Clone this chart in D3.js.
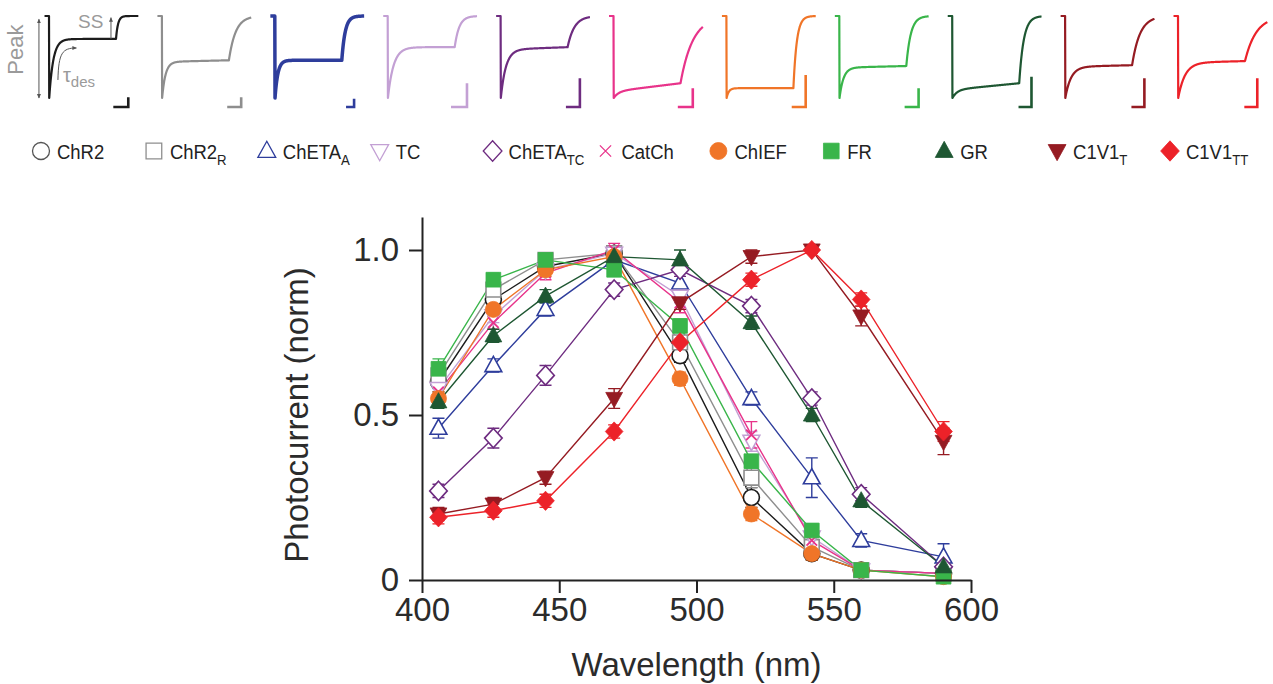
<!DOCTYPE html>
<html>
<head>
<meta charset="utf-8">
<script src="https://cdnjs.cloudflare.com/ajax/libs/d3/7.8.5/d3.min.js"></script>
<style>
  body { margin: 0; background: #fff; }
  svg { font-family: "Liberation Sans", Arial, Helvetica, sans-serif; }
</style>
</head>
<body>
<script>
// constructs, in legend order
var names = ["ChR2", "ChR2", "ChETA", "TC", "ChETA", "CatCh", "ChIEF", "FR", "GR", "C1V1", "C1V1"];
var subs  = ["", "R", "A", "", "TC", "", "", "", "", "T", "TT"];
var colors = ["#1c1c1c", "#8e8e8e", "#2e3d9c", "#c3a0d4", "#6e2c80", "#e8338a",
              "#f07528", "#39b54a", "#1e5732", "#951b22", "#ec2229"];
var shapes = ["circle", "square", "triUp", "triDown", "diamond", "cross",
              "circle", "square", "triUp", "triDown", "diamond"];
var filled = [false, false, false, false, false, false, true, true, true, true, true];

// action spectra (normalised photocurrent)
var wavelengths = [406, 426, 445, 470, 494, 520, 542, 560, 590];
var chr2    = [0.60, 0.85, 0.95, 0.99, 0.68, 0.25, 0.08, 0.03, 0.02];
var chr2R   = [0.62, 0.88, 0.97, 0.99, 0.72, 0.31, 0.10, 0.03, 0.02];
var chetaA  = [0.46, 0.65, 0.82, 0.97, 0.90, 0.55, 0.31, 0.12, 0.07];
var tc      = [0.58, 0.80, 0.94, 0.99, 0.86, 0.42, 0.13, 0.03, 0.02];
var chetaTC = [0.27, 0.43, 0.62, 0.88, 0.94, 0.83, 0.55, 0.26, 0.04];
var catCh   = [0.57, 0.78, 0.93, 1.00, 0.84, 0.44, 0.12, 0.03, 0.02];
var chief   = [0.55, 0.82, 0.94, 0.98, 0.61, 0.20, 0.08, 0.03, 0.01];
var fr      = [0.64, 0.91, 0.97, 0.94, 0.77, 0.36, 0.15, 0.03, 0.01];
var gr      = [0.54, 0.74, 0.86, 0.98, 0.97, 0.78, 0.50, 0.24, 0.04];
var c1v1T   = [0.20, 0.23, 0.31, 0.55, 0.84, 0.98, 1.00, 0.80, 0.42];
var c1v1TT  = [0.19, 0.21, 0.24, 0.45, 0.72, 0.91, 1.00, 0.85, 0.45];
var seriesValues = [chr2, chr2R, chetaA, tc, chetaTC, catCh, chief, fr, gr, c1v1T, c1v1TT];

// s.e.m.
var errChr2    = [0.03, 0.02, 0.02, 0.01, 0.02, 0.03, 0.02, 0.01, 0.01];
var errChr2R   = [0.04, 0.03, 0.02, 0.01, 0.02, 0.03, 0.02, 0.01, 0.01];
var errChetaA  = [0.03, 0.02, 0.02, 0.02, 0.03, 0.02, 0.06, 0.02, 0.04];
var errTc      = [0.03, 0.02, 0.02, 0.02, 0.02, 0.03, 0.02, 0.01, 0.01];
var errChetaTC = [0.02, 0.03, 0.03, 0.02, 0.02, 0.02, 0.02, 0.02, 0.02];
var errCatCh   = [0.03, 0.02, 0.02, 0.02, 0.03, 0.04, 0.02, 0.01, 0.01];
var errChief   = [0.02, 0.02, 0.02, 0.02, 0.02, 0.02, 0.02, 0.01, 0.01];
var errFr      = [0.03, 0.02, 0.02, 0.02, 0.02, 0.02, 0.02, 0.01, 0.01];
var errGr      = [0.02, 0.02, 0.02, 0.02, 0.03, 0.02, 0.02, 0.02, 0.02];
var errC1v1T   = [0.02, 0.02, 0.02, 0.03, 0.02, 0.02, 0.01, 0.03, 0.04];
var errC1v1TT  = [0.02, 0.02, 0.02, 0.02, 0.02, 0.02, 0.01, 0.02, 0.03];
var seriesErr = [errChr2, errChr2R, errChetaA, errTc, errChetaTC, errCatCh, errChief, errFr, errGr, errC1v1T, errC1v1TT];

var xTicks = [400, 450, 500, 550, 600];
var yTicks = [0, 0.5, 1.0];

// example photocurrent traces (fraction of peak, ms)
var traceSS     = [0.28, 0.56, 0.54, 0.38, 0.41, 0.92, 0.88, 0.63, 0.90, 0.62, 0.57];
var traceDrift  = [0.00, 0.02, 0.00, 0.00, 0.03, 0.10, 0.00, 0.02, 0.08, 0.02, 0.02];
var traceTauDes = [36, 30, 25, 50, 45, 40, 20, 35, 40, 50, 60];
var traceTauOff = [18, 60, 30, 40, 60, 110, 30, 40, 40, 70, 100];
var barAmp = [0.12, 0.12, 0.10, 0.29, 0.35, 0.23, 0.39, 0.23, 0.37, 0.35, 0.35];
var barMs  = [134, 125, 72, 143, 125, 134, 125, 125, 116, 116, 116];
var pulseMs = 600;

var svg = d3.select("body").append("svg")
  .attr("width", 1273).attr("height", 684);

// ---------- traces ----------
var panelX = d3.scalePoint().domain(d3.range(names.length)).range([49, 1178]);
var tx = d3.scaleLinear().domain([0, pulseMs]).range([0, 67]);
var cy = d3.scaleLinear().domain([0, -1]).range([16, 98]);

function tracePoints(i) {
  var pts = [[-40, 0], [0, 0], [2, -1]];
  var ss = traceSS[i], last = -1;
  for (var t = 4; t <= pulseMs; t += 2) {
    var s = ss - traceDrift[i] * t / pulseMs;
    last = -(s + (1 - s) * Math.exp(-(t - 2) / traceTauDes[i]));
    pts.push([t, last]);
  }
  for (var t2 = pulseMs + 2; t2 <= 800; t2 += 2)
    pts.push([t2, last * Math.exp(-(t2 - pulseMs) / traceTauOff[i])]);
  return pts;
}

var traceG = svg.append("g").selectAll("g")
  .data(d3.range(names.length)).enter().append("g")
  .attr("transform", function (i) { return "translate(" + panelX(i) + ",0)"; });

traceG.append("path")
  .attr("fill", "none")
  .attr("stroke", function (i) { return colors[i]; })
  .attr("stroke-width", function (i) { return i === 2 ? 3.5 : 2.2; })
  .attr("stroke-linejoin", "round")
  .attr("d", function (i) {
    return d3.line().x(function (p) { return tx(p[0]); }).y(function (p) { return cy(p[1]); })(tracePoints(i));
  });

// scale bars
traceG.append("path")
  .attr("fill", "none")
  .attr("stroke", function (i) { return colors[i]; })
  .attr("stroke-width", 2.6)
  .attr("d", function (i) {
    var xr = tx(710), yb = cy(-1.11);
    return "M" + (xr - (tx(barMs[i]) - tx(0))) + "," + yb + "H" + xr + "V" + cy(-1.11 + barAmp[i]);
  });

// annotations on the first trace
var ann = svg.append("g").attr("transform", "translate(" + panelX(0) + ",0)");
var annColor = "#9a9a9a";
svg.append("defs").append("marker")
  .attr("id", "ah").attr("viewBox", "0 0 10 10").attr("refX", 8).attr("refY", 5)
  .attr("markerWidth", 5).attr("markerHeight", 5).attr("orient", "auto-start-reverse")
  .append("path").attr("d", "M0,1L9,5L0,9Z").attr("fill", "#555");

ann.append("line")
  .attr("x1", tx(-90)).attr("x2", tx(-90))
  .attr("y1", cy(-0.04)).attr("y2", cy(-1))
  .attr("stroke", "#555").attr("stroke-width", 1)
  .attr("marker-start", "url(#ah)").attr("marker-end", "url(#ah)");
ann.append("line")
  .attr("x1", tx(555)).attr("x2", tx(555))
  .attr("y1", cy(-0.02)).attr("y2", cy(-traceSS[0]))
  .attr("stroke", "#555").attr("stroke-width", 1)
  .attr("marker-start", "url(#ah)");
ann.append("path")
  .attr("fill", "none").attr("stroke", "#555").attr("stroke-width", 1)
  .attr("marker-end", "url(#ah)")
  .attr("d", "M" + tx(80) + "," + cy(-0.78) + "C" + tx(85) + "," + cy(-0.45) + " " +
    tx(120) + "," + cy(-0.39) + " " + tx(245) + "," + cy(-0.39));
ann.append("text")
  .attr("transform", "translate(" + (tx(-230)) + "," + cy(-0.41) + ") rotate(-90)")
  .attr("text-anchor", "middle")
  .attr("font-size", 22).attr("fill", annColor).text("Peak");
ann.append("text")
  .attr("x", tx(260)).attr("y", cy(-0.15))
  .attr("font-size", 19).attr("fill", annColor).text("SS");
var tau = ann.append("text")
  .attr("x", tx(125)).attr("y", cy(-0.8))
  .attr("font-size", 20).attr("fill", annColor);
tau.append("tspan").text("τ");
tau.append("tspan").attr("font-size", 15).attr("dy", 5).text("des");

// ---------- legend ----------
function symbolPath(shape, s) {
  switch (shape) {
    case "circle": return d3.symbol().type(d3.symbolCircle).size(s * s * 0.785)();
    case "square": return d3.symbol().type(d3.symbolSquare).size(s * s * 0.85)();
    case "triUp": {
      var h = s * 0.95, w = s * 1.05;
      return "M0," + (-h * 0.6) + "L" + (w / 2) + "," + (h * 0.4) + "L" + (-w / 2) + "," + (h * 0.4) + "Z";
    }
    case "triDown": {
      var h2 = s * 0.95, w2 = s * 1.05;
      return "M0," + (h2 * 0.6) + "L" + (w2 / 2) + "," + (-h2 * 0.4) + "L" + (-w2 / 2) + "," + (-h2 * 0.4) + "Z";
    }
    case "diamond": {
      var a = s * 0.55, b = s * 0.6;
      return "M0," + (-b) + "L" + a + ",0L0," + b + "L" + (-a) + ",0Z";
    }
    case "cross": {
      var c = s * 0.33;
      return "M" + (-c) + "," + (-c) + "L" + c + "," + c + "M" + c + "," + (-c) + "L" + (-c) + "," + c;
    }
  }
}

var legendColors = colors.slice();
legendColors[0] = "#555";

var legend = svg.append("g").selectAll("g")
  .data(d3.range(names.length)).enter().append("g")
  .attr("transform", function (i) { return "translate(" + (panelX(i) - 8) + ",151)"; });

legend.append("path")
  .attr("d", function (i) { return symbolPath(shapes[i], 17); })
  .attr("fill", function (i) { return filled[i] ? colors[i] : "none"; })
  .attr("stroke", function (i) { return legendColors[i]; })
  .attr("stroke-width", function (i) { return filled[i] ? 0.8 : 1.3; });

// narrow face, as in the original legend
var ltext = legend.append("text")
  .attr("transform", "translate(16,8) scale(0.88,1)")
  .attr("font-size", 21).attr("fill", "#222");
ltext.append("tspan").text(function (i) { return names[i]; });
ltext.append("tspan").attr("font-size", 15).attr("dy", 6).text(function (i) { return subs[i]; });

// ---------- action spectra ----------
var x = d3.scaleLinear().domain([400, 600]).range([422, 971]);
var y = d3.scaleLinear().domain([0, 1.1]).range([580, 217]);

var series = svg.append("g").selectAll("g")
  .data(d3.range(names.length)).enter().append("g");

series.append("path")
  .attr("fill", "none")
  .attr("stroke", function (i) { return colors[i]; })
  .attr("stroke-width", 1.4)
  .attr("d", function (i) {
    return d3.line().x(function (w) { return x(w); })
      .y(function (w, k) { return y(seriesValues[i][k]); })(wavelengths);
  });

series.each(function (i) {
  d3.select(this).append("g").selectAll("path").data(wavelengths).enter().append("path")
    .attr("fill", "none").attr("stroke", colors[i]).attr("stroke-width", 1.4)
    .attr("d", function (w, k) {
      var v = seriesValues[i][k], e = seriesErr[i][k];
      var cx = x(w), y1 = y(v + e), y2 = y(v - e);
      return "M" + (cx - 6) + "," + y1 + "H" + (cx + 6) + "M" + cx + "," + y1 + "V" + y2 +
        "M" + (cx - 6) + "," + y2 + "H" + (cx + 6);
    });
});

var markers = svg.append("g").selectAll("g")
  .data(d3.range(names.length)).enter().append("g");
markers.each(function (i) {
  d3.select(this).selectAll("path").data(wavelengths).enter().append("path")
    .attr("transform", function (w, k) { return "translate(" + x(w) + "," + y(seriesValues[i][k]) + ")"; })
    .attr("d", symbolPath(shapes[i], 16))
    .attr("fill", filled[i] ? colors[i] : (shapes[i] === "cross" ? "none" : "#fff"))
    .attr("stroke", colors[i])
    .attr("stroke-width", filled[i] ? 0.8 : (shapes[i] === "cross" ? 1.8 : 1.6));
});

// axes
var axisFont = 33, ink = "#2b2b2b";
var xAxis = svg.append("g").attr("transform", "translate(0,580)")
  .call(d3.axisBottom(x).tickValues(xTicks).tickSize(13).tickPadding(5).tickSizeOuter(0));
var yAxis = svg.append("g").attr("transform", "translate(422,0)")
  .call(d3.axisLeft(y).tickValues(yTicks).tickSize(13).tickPadding(10).tickSizeOuter(0)
    .tickFormat(function (d) { return d === 0 ? "0" : d3.format(".1f")(d); }));

[xAxis, yAxis].forEach(function (a) {
  a.select(".domain").attr("stroke", "#222").attr("stroke-width", 2);
  a.selectAll(".tick line").attr("stroke", "#222").attr("stroke-width", 2);
  a.selectAll(".tick text").attr("font-size", axisFont).attr("fill", ink)
    .attr("font-family", "'Liberation Sans', Arial, sans-serif");
});

svg.append("text")
  .attr("x", (x.range()[0] + x.range()[1]) / 2).attr("y", 676)
  .attr("text-anchor", "middle").attr("font-size", axisFont).attr("fill", ink)
  .text("Wavelength (nm)");
svg.append("text")
  .attr("transform", "translate(308," + y(0.5) + ") rotate(-90)")
  .attr("text-anchor", "middle").attr("font-size", axisFont).attr("fill", ink)
  .text("Photocurrent (norm)");
</script>
</body>
</html>
